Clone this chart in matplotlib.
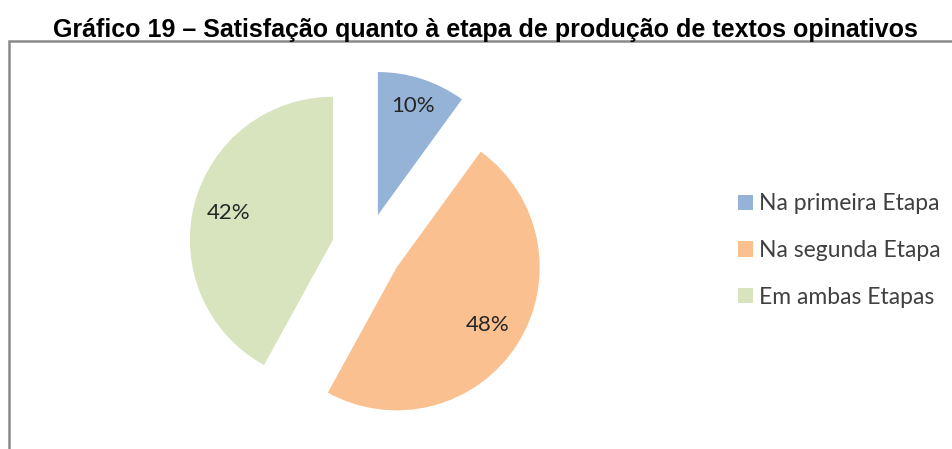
import numpy as np
from matplotlib import pyplot as plt
from matplotlib.patches import Rectangle

# dados do gráfico
categorias = ['Na primeira Etapa', 'Na segunda Etapa', 'Em ambas Etapas']
valores = [10, 48, 42]
titulo = 'Gráfico 19 – Satisfação quanto à etapa de produção de textos opinativos'

cores = ['#95B3D7', '#FAC090', '#D7E4BD']
W, H = 953, 449

fig = plt.figure(figsize=(W / 100, H / 100), dpi=100)
fig.patch.set_facecolor('white')

# moldura cinza (Excel) - sai pela direita e por baixo
fig.patches.append(Rectangle((9.5 / W, -0.1), 1.2, (H - 41) / H + 0.1,
                             transform=fig.transFigure, fill=False,
                             edgecolor='#8a8a8a', linewidth=1.8))

# titulo
fig.text(485 / W, 1 - 37 / H, titulo, ha='center', va='baseline',
         fontsize=18, fontweight='bold', family='Liberation Sans', color='black')

# eixo da pizza: raio 143 px, centro (367, 248.5) px
r = 143
cx, cy = 367, 248.5
lado = 2.5 * r
ax = fig.add_axes([(cx - lado / 2) / W, (H - cy - lado / 2) / H, lado / W, lado / H])

explode = [0.246] * len(valores)
wedges, textos, pcts = ax.pie(valores, explode=explode, colors=cores, startangle=90,
                              counterclock=False, autopct='%1.0f%%', pctdistance=0.75,
                              labels=None, wedgeprops=dict(linewidth=0),
                              textprops=dict(fontsize=16, family='Lato', color='#262626'))
ax.set_xlim(-1.25, 1.25)
ax.set_ylim(-1.25, 1.25)
ax.set_aspect('equal')
ax.axis('off')

# rótulo da fatia pequena fica um pouco mais para fora
dist = [0.80, 0.75, 0.75]
for w, t, e, d in zip(wedges, pcts, explode, dist):
    ang = np.deg2rad((w.theta1 + w.theta2) / 2)
    t.set_position((e * np.cos(ang) + d * np.cos(ang), e * np.sin(ang) + d * np.sin(ang)))

leg = fig.legend(wedges, categorias, loc='center left',
                 bbox_to_anchor=(738 / W, 1 - 250.5 / H), frameon=False,
                 prop=dict(family='Lato', size=16.5),
                 handlelength=0.66, handleheight=0.66, handletextpad=0.25,
                 labelspacing=1.12, borderpad=0, borderaxespad=0)
for t in leg.get_texts():
    t.set_color('#404040')

fig.savefig('out.png', dpi=100, facecolor='white')
